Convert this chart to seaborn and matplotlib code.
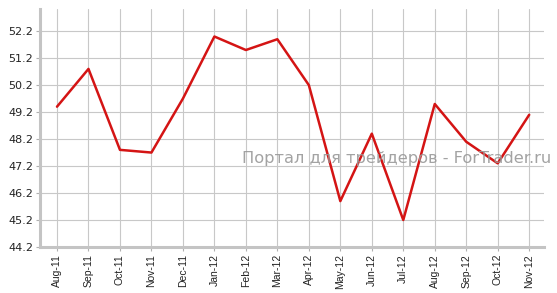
import matplotlib
matplotlib.use("Agg")
import matplotlib.pyplot as plt
import seaborn as sns
import pandas as pd

months = ["Aug-11", "Sep-11", "Oct-11", "Nov-11", "Dec-11", "Jan-12", "Feb-12", "Mar-12",
          "Apr-12", "May-12", "Jun-12", "Jul-12", "Aug-12", "Sep-12", "Oct-12", "Nov-12"]
values = [49.4, 50.8, 47.8, 47.7, 49.7, 52.0, 51.5, 51.9,
          50.2, 45.9, 48.4, 45.2, 49.5, 48.1, 47.3, 49.1]
yticks = [44.2, 45.2, 46.2, 47.2, 48.2, 49.2, 50.2, 51.2, 52.2]

sns.set_theme(style="white")
plt.rcParams['font.family'] = ['DejaVu Sans']

fig = plt.figure(figsize=(5.57, 2.93), dpi=100)
ax = fig.add_axes([40/557, 1-247/293, (544-40)/557, (247-9)/293])

df = pd.DataFrame({"idx": range(len(months)), "val": values})
sns.lineplot(data=df, x="idx", y="val", ax=ax, color="#d41414", linewidth=1.8)

ax.set_xlim(-0.54, len(months) - 1 + 0.47)
ax.set_ylim(44.2, 53.02)
ax.set_xticks(range(len(months)))
ax.set_xticklabels(months, rotation=90, fontsize=7.5, color="#222222", family="Liberation Sans")
ax.set_yticks(yticks)
ax.set_yticklabels([f"{v:.1f}" for v in yticks], fontsize=8, color="#222222")
ax.set_xlabel("")
ax.set_ylabel("")

ax.grid(True, color="#c8c8c8", linewidth=0.8)
ax.set_axisbelow(True)
for s in ["top", "right"]:
    ax.spines[s].set_visible(False)
for s in ["left", "bottom"]:
    ax.spines[s].set_color("#c4c4c4")
    ax.spines[s].set_linewidth(2.2)
ax.tick_params(axis="both", which="both", length=3, width=0.8, color="#b0b0b0", pad=2, left=True, bottom=True)

ax.text((242-40)/504, (247-158)/238, "Портал для трейдеров - ForTrader.ru", transform=ax.transAxes,
        ha="left", va="center", fontsize=11.7, color="#999999", alpha=0.9, clip_on=False)

fig.savefig("out.png", dpi=100)
